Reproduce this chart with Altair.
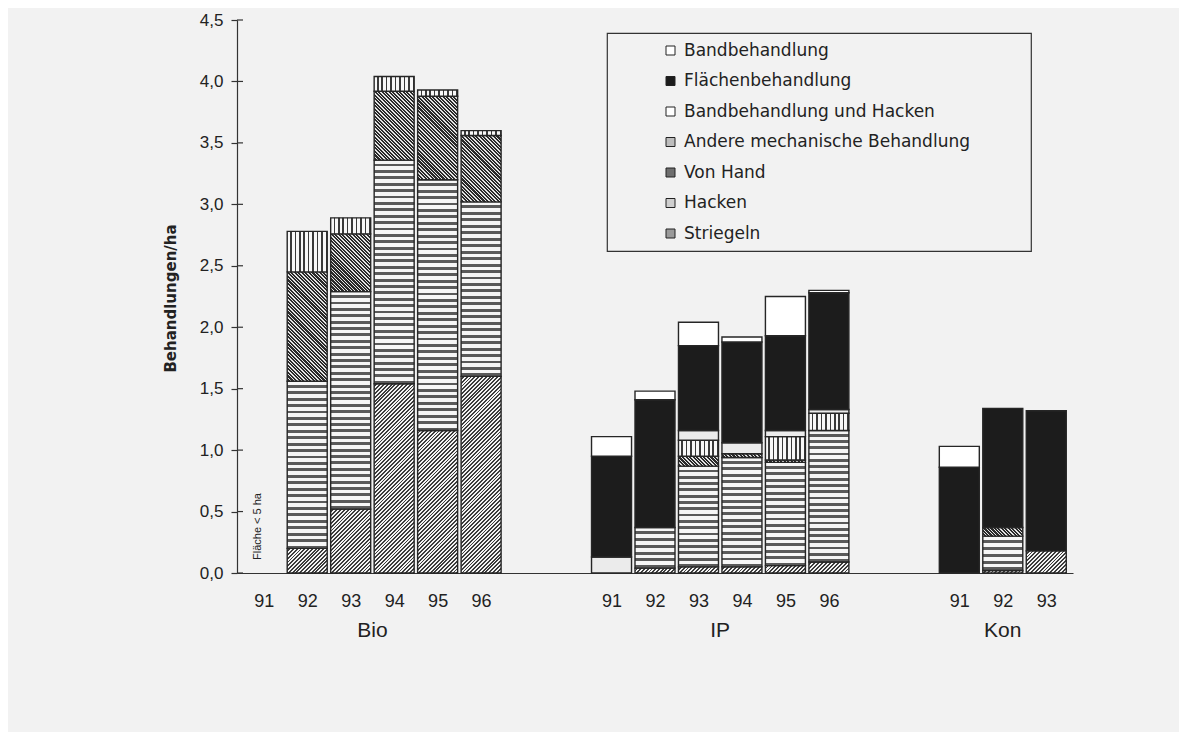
import math
import altair as alt
import pandas as pd

# ---------------- data ----------------
groups = ["Bio", "IP", "Kon"]
bar_group = ["Bio"] * 6 + ["IP"] * 6 + ["Kon"] * 3
bar_year = [91, 92, 93, 94, 95, 96, 91, 92, 93, 94, 95, 96, 91, 92, 93]

# legend order (top to bottom); stacking is the reverse (bottom to top)
categories = [
    "Bandbehandlung",
    "Flächenbehandlung",
    "Bandbehandlung und Hacken",
    "Andere mechanische Behandlung",
    "Von Hand",
    "Hacken",
    "Striegeln",
]

bandbehandlung = [0, 0, 0, 0, 0, 0, 0.16, 0.07, 0.19, 0.04, 0.32, 0.02, 0.17, 0, 0]
flaechenbehandlung = [0, 0, 0, 0, 0, 0, 0.82, 1.04, 0.69, 0.82, 0.77, 0.95, 0.86, 0.97, 1.14]
bandbeh_hacken = [0, 0, 0, 0, 0, 0, 0.13, 0, 0.08, 0.09, 0.05, 0.03, 0, 0, 0]
andere_mech = [0, 0.33, 0.13, 0.12, 0.05, 0.04, 0, 0, 0.13, 0, 0.19, 0.14, 0, 0, 0]
von_hand = [0, 0.89, 0.47, 0.56, 0.68, 0.54, 0, 0, 0.08, 0.03, 0.02, 0, 0, 0.07, 0]
hacken = [0, 1.36, 1.77, 1.82, 2.04, 1.42, 0, 0.33, 0.82, 0.89, 0.84, 1.07, 0, 0.28, 0]
striegeln = [0, 0.20, 0.52, 1.54, 1.16, 1.60, 0, 0.04, 0.05, 0.05, 0.06, 0.09, 0, 0.02, 0.18]

series = {
    "Bandbehandlung": bandbehandlung,
    "Flächenbehandlung": flaechenbehandlung,
    "Bandbehandlung und Hacken": bandbeh_hacken,
    "Andere mechanische Behandlung": andere_mech,
    "Von Hand": von_hand,
    "Hacken": hacken,
    "Striegeln": striegeln,
}

y_ticks = [0, 0.5, 1.0, 1.5, 2.0, 2.5, 3.0, 3.5, 4.0, 4.5]
note_text = "Fläche < 5 ha"

# ---------------- layout ----------------
W, H = 836, 553
Y_MAX = 4.5
BAR_W = 40
px_per_unit = H / Y_MAX

slots = [8 * groups.index(g) + (y - 91) for g, y in zip(bar_group, bar_year)]
n_slots = max(slots) + 1

rows = []
for b, (g, yr, s) in enumerate(zip(bar_group, bar_year, slots)):
    base = 0.0
    for cat in reversed(categories):
        v = series[cat][b]
        if v > 0:
            rows.append({"group": g, "year": yr, "slot": s, "cat": cat,
                         "v": v, "y0": base, "y1": base + v,
                         "sid": f"{g}{yr}-{categories.index(cat)}"})
        base += v
df = pd.DataFrame(rows)


def stripes(n, f, light, dark):
    stops = []
    for i in range(n):
        a, b, c = i / n, (i + 1 - f) / n, (i + 1) / n
        stops += [{"offset": round(a, 4), "color": light},
                  {"offset": round(b, 4), "color": light},
                  {"offset": round(b, 4), "color": dark},
                  {"offset": round(c, 4), "color": dark}]
    return stops


conds = []
for r in rows:
    hpx = r["v"] * px_per_unit
    test = f"datum.sid === '{r['sid']}'"
    cat = r["cat"]
    if cat == "Hacken":
        n = max(1, round(hpx / 6.4))
        g = {"gradient": "linear", "x1": 0, "y1": 0, "x2": 0, "y2": 1,
             "stops": stripes(n, 0.45, "#f6f6f6", "#5a5a5a")}
    elif cat == "Andere mechanische Behandlung":
        g = {"gradient": "linear", "x1": 0, "y1": 0, "x2": 1, "y2": 0,
             "stops": stripes(9, 0.35, "#f8f8f8", "#3a3a3a")}
    elif cat in ("Striegeln", "Von Hand"):
        s = (BAR_W + hpx) / (BAR_W ** 2 + hpx ** 2)
        p = 2.7 if cat == "Striegeln" else 2.5
        n = max(1, round((BAR_W + hpx) / (p * math.sqrt(2))))
        if cat == "Striegeln":
            g = {"gradient": "linear", "x1": 0, "y1": 0,
                 "x2": round(s * BAR_W, 5), "y2": round(s * hpx, 5),
                 "stops": stripes(n, 0.48, "#f2f2f2", "#3c3c3c")}
        else:
            g = {"gradient": "linear", "x1": 0, "y1": 1,
                 "x2": round(s * BAR_W, 5), "y2": round(1 - s * hpx, 5),
                 "stops": stripes(n, 0.6, "#e4e4e4", "#2a2a2a")}
    elif cat == "Bandbehandlung und Hacken":
        g = "#ebebeb"
    else:
        continue
    conds.append({"test": test, "value": g})

legend_colors = ["#ffffff", "#1c1c1c", "#ffffff", "#bdbdbd", "#6e6e6e", "#cfcfcf", "#9a9a9a"]

year_labels = [""] * n_slots
for s, yr in zip(slots, bar_year):
    year_labels[s] = str(yr)
label_expr = "[" + ",".join(f"'{t}'" for t in year_labels) + "][datum.value]"

x_scale = alt.Scale(domain=[-0.5, n_slots - 0.5], nice=False, zero=False)
y_scale = alt.Scale(domain=[0, Y_MAX], nice=False)

x_axis = alt.Axis(values=sorted(set(slots)), labelExpr=label_expr, ticks=False,
                  tickSize=0, labelPadding=19, labelFont="Liberation Sans",
                  labelFontSize=18, labelColor="#222", title=None, grid=False,
                  domainColor="#333", domainWidth=1.2, labelFlush=False)
y_axis = alt.Axis(values=y_ticks, labelExpr="replace(format(datum.value, '.1f'), '.', ',')",
                  tickSize=6, tickColor="#333", tickWidth=1.2, labelPadding=8,
                  labelFont="Liberation Sans", labelFontSize=17, labelColor="#222",
                  grid=False, domainColor="#333", domainWidth=1.2,
                  title="Behandlungen/ha", titleFont="DejaVu Sans", titleFontSize=15,
                  titleFontWeight="bold", titleColor="#222", titleX=-59, titleY=278)

bars = alt.Chart(df).mark_bar(size=BAR_W, stroke="#262626", strokeWidth=1.4).encode(
    x=alt.X("slot:Q", scale=x_scale, axis=x_axis),
    y=alt.Y("y0:Q", scale=y_scale, axis=y_axis),
    y2="y1:Q",
    fill=alt.Fill("cat:N", scale=alt.Scale(domain=categories, range=legend_colors),
                  legend=alt.Legend(title=".", titleOrient="right", titlePadding=47,
                                    titleOpacity=0, titleFontSize=17,
                                    orient="none", legendX=370, legendY=13,
                                    padding=9, strokeColor="#333",
                                    symbolType="square", symbolSize=81,
                                    symbolStrokeColor="#222", symbolStrokeWidth=1,
                                    labelFont="DejaVu Sans", labelFontSize=17,
                                    labelColor="#222", rowPadding=12.5,
                                    symbolOffset=46, labelOffset=5, labelLimit=0),
                  condition=conds),
)

inner_ticks = alt.Chart(pd.DataFrame({"t": y_ticks})).mark_rule(
    color="#333", strokeWidth=1.2).encode(
    y=alt.Y("t:Q", scale=y_scale, axis=y_axis),
    x=alt.value(0), x2=alt.value(6),
)

grp_df = pd.DataFrame({
    "group": groups,
    "center": [(min(s for s, g2 in zip(slots, bar_group) if g2 == g) +
                max(s for s, g2 in zip(slots, bar_group) if g2 == g)) / 2 for g in groups],
})
group_labels = alt.Chart(grp_df).mark_text(
    font="Liberation Sans", fontSize=21, baseline="alphabetic", color="#222").encode(
    x=alt.X("center:Q", scale=x_scale, axis=x_axis),
    y=alt.value(H + 64),
    text="group:N",
)

note = alt.Chart(pd.DataFrame({"slot": [slots[0]], "t": [note_text]})).mark_text(
    font="Liberation Sans", fontSize=11, angle=270, align="left",
    baseline="alphabetic", dy=-3, color="#222").encode(
    x=alt.X("slot:Q", scale=x_scale, axis=x_axis),
    y=alt.value(H - 13),
    text="t:N",
)

chart = alt.layer(bars, inner_ticks, group_labels, note).properties(
    width=W, height=H,
    padding={"left": 229, "top": 12, "right": 106, "bottom": 159},
    autosize=alt.AutoSizeParams(type="none"),
    background="#f2f2f2",
).configure_view(stroke=None).configure_legend(strokeWidth=1.2)

chart.save("out.html", embed_options={"renderer": "svg", "actions": False})
